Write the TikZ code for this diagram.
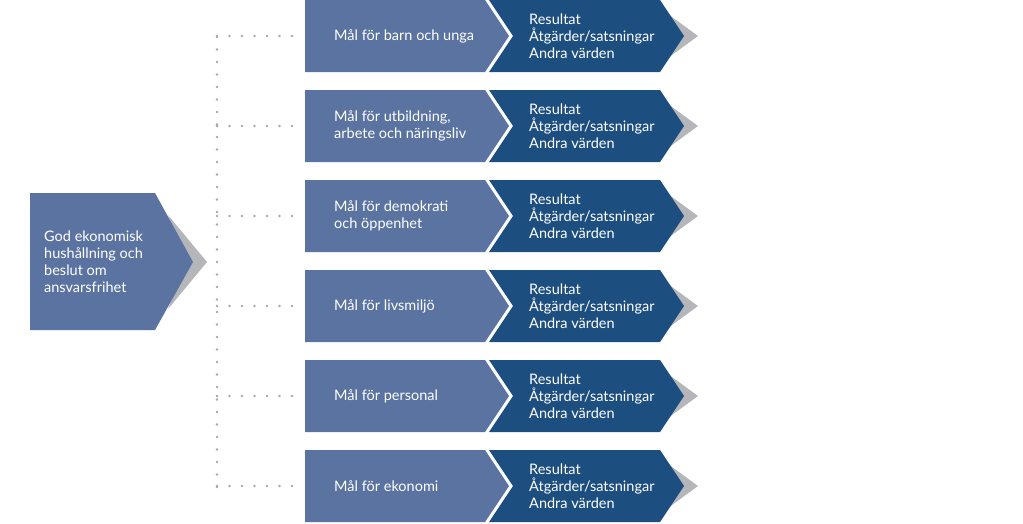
\documentclass[tikz,border=0pt]{standalone}
\usepackage{fontspec}
\setmainfont{Lato}
\usepackage{tikz}
\usetikzlibrary{positioning, calc}
\definecolor{maallight}{HTML}{5A73A1}
\definecolor{maaldark}{HTML}{1D4E80}
\definecolor{chevgray}{HTML}{B4B6BA}
\definecolor{dotgray}{HTML}{A8A8A8}

\begin{document}
\begin{tikzpicture}[x=1pt,y=-1pt,
	txt/.style={text=white, font=\fontsize{14.5}{17}\selectfont, align=left, inner sep=0pt},
	dots/.style={dotgray, line width=2.6pt, line cap=round, dash pattern=on 0pt off 12.5pt}]
	\useasboundingbox (0,0) rectangle (1023,523);
	% left box
	\fill[chevgray] (168,215) -- (207,262) -- (168,309) -- (186,262) -- cycle;
	\fill[maallight] (30,193) -- (155,193) -- (193,262) -- (155,330) -- (30,330) -- cycle;
	\node[txt, anchor=west] (god) at (44,262) {God ekonomisk\\hushållning och\\beslut om\\ansvarsfrihet};
	\coordinate (top) at (217,37);
	\coordinate (bot) at (217,488);
	\draw[dots] (top) -- (bot);
	% rows
	\foreach \i/\goal in {0/{Mål för barn och unga},1/{Mål för utbildning,\\arbete och näringsliv},2/{Mål för demokrati\\och öppenhet},3/{Mål för livsmiljö},4/{Mål för personal},5/{Mål för ekonomi}}{
		\pgfmathsetmacro{\t}{\i*90}
		\pgfmathsetmacro{\m}{\i*90+36}
		\pgfmathsetmacro{\b}{\i*90+72}
		\fill[chevgray] (668,\t+14) -- (698,\m) -- (668,\b-14) -- (683,\m) -- cycle;
		\fill[maaldark] (489,\t) -- (660,\t) -- (684,\m) -- (660,\b) -- (489,\b) -- (513,\m) -- cycle;
		\fill[maallight] (305,\t) -- (485,\t) -- (509,\m) -- (485,\b) -- (305,\b) -- cycle;
		\node[txt, anchor=west] (goal\i) at (334,\m) {\goal};
		\node[txt, anchor=west] (res\i) at (529,\m) {Resultat\\Åtgärder/satsningar\\Andra värden};
		\coordinate (join\i) at (217,\m);
		\draw[dots] (join\i) -- ($(goal\i.west)+(-38,0)$);
	}
\end{tikzpicture}
\end{document}
